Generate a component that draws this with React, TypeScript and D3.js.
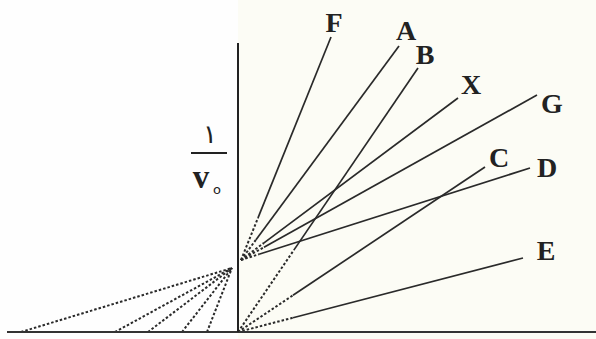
import React from "react";
import * as d3 from "d3";

// lines of the diagram, in axis units (1/[S], 1/v0)
const lineNames = ["F", "A", "B", "X", "G", "C", "D", "E"];
const startX = [0.15, 0.15, 0, 0.15, 0.15, 0, 0.15, 0];
const startY = [3.6, 3.6, 0, 3.6, 3.6, 0, 3.6, 0];
const endX = [4.65, 8.05, 9.0, 11.0, 14.95, 12.35, 14.6, 14.25];
const endY = [14.75, 14.3, 13.2, 11.7, 11.85, 8.25, 8.2, 3.7];
// where the dotted start of each line turns solid (x value)
const dottedUntil = [1.0, 0.9, 2.8, 1.3, 1.3, 2.75, 1.05, 2.75];

// dotted extrapolations to the left of the y axis
const xIntercepts = [-10.85, -6.15, -4.5, -2.8, -1.55];
const leftMeet = [-0.3, 3.2];

const W = 596;
const H = 339;

const labelOffset: Record<string, [number, number]> = {
  F: [3, -5],
  A: [7, -6],
  B: [7, -4],
  X: [13, -4],
  G: [15, 18],
  C: [14, 0],
  D: [17, 9],
  E: [23, 2],
};

export default function App() {
  const x = d3.scaleLinear().domain([0, 1]).range([238, 258]);
  const y = d3.scaleLinear().domain([0, 1]).range([332, 312]);
  const line = d3.line<[number, number]>().x((d) => x(d[0])).y((d) => y(d[1]));
  const ink = "#2a2a2a";

  return (
    <div style={{ position: "fixed", left: 0, top: 0 }}>
      <svg width={W} height={H} style={{ display: "block" }}>
        <rect x={0} y={0} width={W} height={H} fill="#fefefe" />
        <rect x={x(0)} y={0} width={W - x(0)} height={H} fill="#fcfcf5" />

        {xIntercepts.map((xi, i) => (
          <path
            key={"l" + i}
            d={line([[xi, 0], [leftMeet[0], leftMeet[1]]]) || ""}
            stroke={ink}
            strokeWidth={2}
            strokeDasharray="2.5,2"
            fill="none"
          />
        ))}

        {lineNames.map((name, i) => {
          const t = (dottedUntil[i] - startX[i]) / (endX[i] - startX[i]);
          const mx = startX[i] + t * (endX[i] - startX[i]);
          const my = startY[i] + t * (endY[i] - startY[i]);
          const [dx, dy] = labelOffset[name];
          return (
            <g key={name}>
              <path
                d={line([[startX[i], startY[i]], [mx, my]]) || ""}
                stroke={ink}
                strokeWidth={2}
                strokeDasharray="2.5,2"
                fill="none"
              />
              <path
                d={line([[mx, my], [endX[i], endY[i]]]) || ""}
                stroke={ink}
                strokeWidth={1.7}
                fill="none"
              />
              <text
                x={x(endX[i]) + dx}
                y={y(endY[i]) + dy}
                textAnchor="middle"
                fontFamily="'Liberation Serif', serif"
                fontWeight="bold"
                fontSize={28}
                fill="#222"
              >
                {name}
              </text>
            </g>
          );
        })}

        {/* axes */}
        <line x1={7} x2={W} y1={y(0)} y2={y(0)} stroke="#333" strokeWidth={2} />
        <line x1={x(0)} x2={x(0)} y1={43} y2={y(0)} stroke="#222" strokeWidth={2} />

        {/* y axis title 1/v0 */}
        <text x={210} y={143} textAnchor="middle" fontFamily="'DejaVu Sans', sans-serif" fontSize={26} fill="#222">
          ١
        </text>
        <line x1={191} x2={227} y1={153} y2={153} stroke="#222" strokeWidth={2} />
        <text x={201} y={188} textAnchor="middle" fontFamily="'Liberation Serif', serif" fontWeight="bold" fontSize={33} fill="#222">
          v
        </text>
        <text x={217} y={194} textAnchor="middle" fontFamily="'DejaVu Sans', sans-serif" fontSize={13} fill="#222">
          o
        </text>
      </svg>
    </div>
  );
}
